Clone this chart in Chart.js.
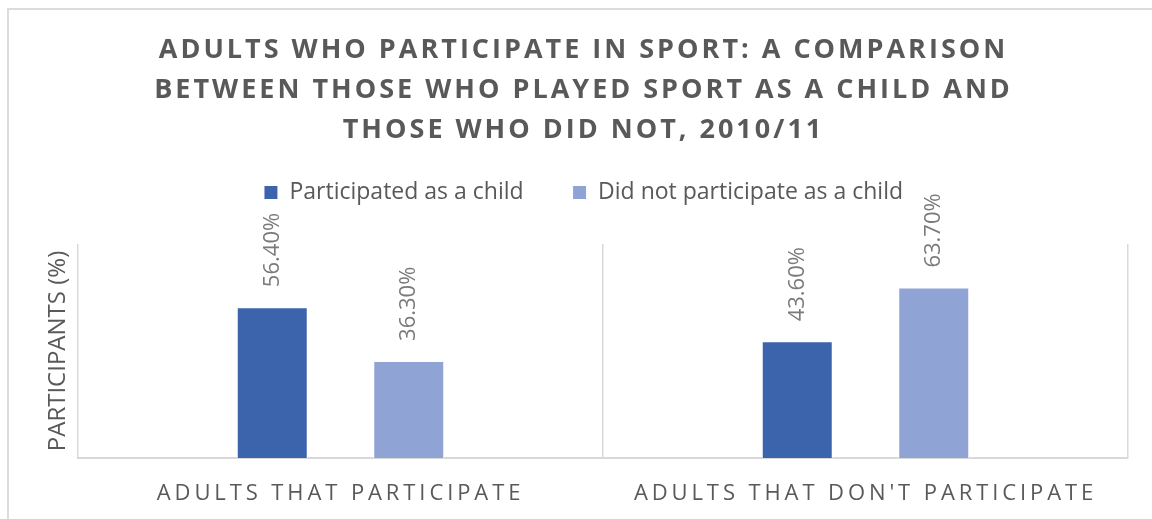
<!DOCTYPE html>
<html lang="en">
<head>
    <meta charset="UTF-8">
    <title>Adults who participate in sport</title>
    <script src="https://cdn.jsdelivr.net/npm/chart.js"></script>
    <style>
        html, body { margin: 0; padding: 0; background: #fff; overflow: hidden; }
        #frame {
            position: absolute; left: 7px; top: 8px;
            width: 1160px; height: 530px;
            border-left: 2px solid #dcdcdc; border-top: 2px solid #dcdcdc;
            background: #fff;
        }
        #box { position: absolute; left: 0; top: 0; width: 1143px; height: 509px; }
    </style>
</head>
<body>
    <div id="frame">
        <div id="box"><canvas id="sportChart"></canvas></div>
    </div>

    <script>
        // Data 2010/11
        const categories = ['ADULTS THAT PARTICIPATE', "ADULTS THAT DON'T PARTICIPATE"];
        const seriesNames = ['Participated as a child', 'Did not participate as a child'];
        const playedAsChild = [56.4, 43.6];
        const didNotPlay = [36.3, 63.7];
        const titleLines = [
            'ADULTS WHO PARTICIPATE IN SPORT: A COMPARISON',
            'BETWEEN THOSE WHO PLAYED SPORT AS A CHILD AND',
            'THOSE WHO DID NOT, 2010/11'
        ];

        const FONT = "'Open Sans', 'DejaVu Sans', sans-serif";
        const GREY = '#595959';

        // Letter-spaced title and category labels
        const spacingPlugin = {
            id: 'spacing',
            afterInit(chart) {
                const tb = chart.titleBlock;
                if (tb && !tb._spaced) {
                    const orig = tb.draw;
                    tb.draw = function () {
                        const c = this.ctx;
                        c.save();
                        c.letterSpacing = '3px';
                        orig.apply(this, arguments);
                        c.restore();
                    };
                    tb._spaced = true;
                }
            },
            beforeDraw(chart) {
                const x = chart.scales.x;
                if (x && !x._spaced) {
                    const orig = x.drawLabels;
                    x.drawLabels = function () {
                        const c = this.ctx;
                        c.save();
                        c.letterSpacing = '3.9px';
                        orig.apply(this, arguments);
                        c.restore();
                    };
                    x._spaced = true;
                }
            }
        };

        // Rotated value labels above each bar
        const valueLabels = {
            id: 'valueLabels',
            afterDatasetsDraw(chart) {
                const ctx = chart.ctx;
                ctx.save();
                ctx.font = '22px ' + FONT;
                ctx.fillStyle = '#7a7a7a';
                ctx.textAlign = 'left';
                ctx.textBaseline = 'middle';
                chart.data.datasets.forEach((ds, i) => {
                    chart.getDatasetMeta(i).data.forEach((bar, j) => {
                        ctx.save();
                        ctx.translate(bar.x, bar.y - 20);
                        ctx.rotate(-Math.PI / 2);
                        ctx.fillText(ds.data[j].toFixed(2) + '%', 0, 0);
                        ctx.restore();
                    });
                });
                ctx.restore();
            }
        };

        new Chart(document.getElementById('sportChart'), {
            type: 'bar',
            data: {
                labels: categories,
                datasets: [{
                    label: seriesNames[0],
                    data: playedAsChild,
                    backgroundColor: '#3c64ad',
                    borderColor: '#ffffff',
                    borderWidth: 1,
                    categoryPercentage: 0.52,
                    barPercentage: 0.52
                }, {
                    label: seriesNames[1],
                    data: didNotPlay,
                    backgroundColor: '#8fa3d4',
                    borderColor: '#ffffff',
                    borderWidth: 1,
                    categoryPercentage: 0.52,
                    barPercentage: 0.52
                }]
            },
            options: {
                responsive: true,
                maintainAspectRatio: false,
                animation: false,
                layout: { padding: { left: 30, right: 24, top: 0, bottom: 0 } },
                plugins: {
                    title: {
                        display: true,
                        text: titleLines,
                        color: GREY,
                        font: { family: FONT, size: 27, weight: 'bold', lineHeight: 40 / 27 },
                        // legend padding is wide, so pull it up under the title
                        padding: { top: 20, bottom: -18 }
                    },
                    // empty spacer between legend and plot
                    subtitle: {
                        display: true,
                        text: '',
                        weight: 500,
                        font: { size: 10, lineHeight: 1 },
                        padding: { top: 0, bottom: 20 }
                    },
                    legend: {
                        position: 'top',
                        labels: {
                            color: GREY,
                            font: { family: FONT, size: 23 },
                            boxWidth: 14,
                            boxHeight: 14,
                            padding: 49
                        }
                    },
                    tooltip: { enabled: false }
                },
                scales: {
                    x: {
                        afterFit(scale) { scale.height = 61; },
                        grid: {
                            display: true,
                            offset: true,
                            drawTicks: false,
                            color: '#d9d9d9',
                            lineWidth: 1.5
                        },
                        border: { display: true, color: '#d9d9d9', width: 2 },
                        ticks: {
                            color: GREY,
                            font: { family: FONT, size: 22 },
                            padding: 23,
                            maxRotation: 0
                        }
                    },
                    y: {
                        min: 0,
                        max: 80,
                        grid: { display: false, drawTicks: false },
                        border: { display: false },
                        ticks: { display: false },
                        title: {
                            display: true,
                            text: 'PARTICIPANTS (%)',
                            color: GREY,
                            font: { family: FONT, size: 24 },
                            padding: { top: 4.6, bottom: 5.6 }
                        }
                    }
                }
            },
            plugins: [spacingPlugin, valueLabels]
        });
    </script>
</body>
</html>
